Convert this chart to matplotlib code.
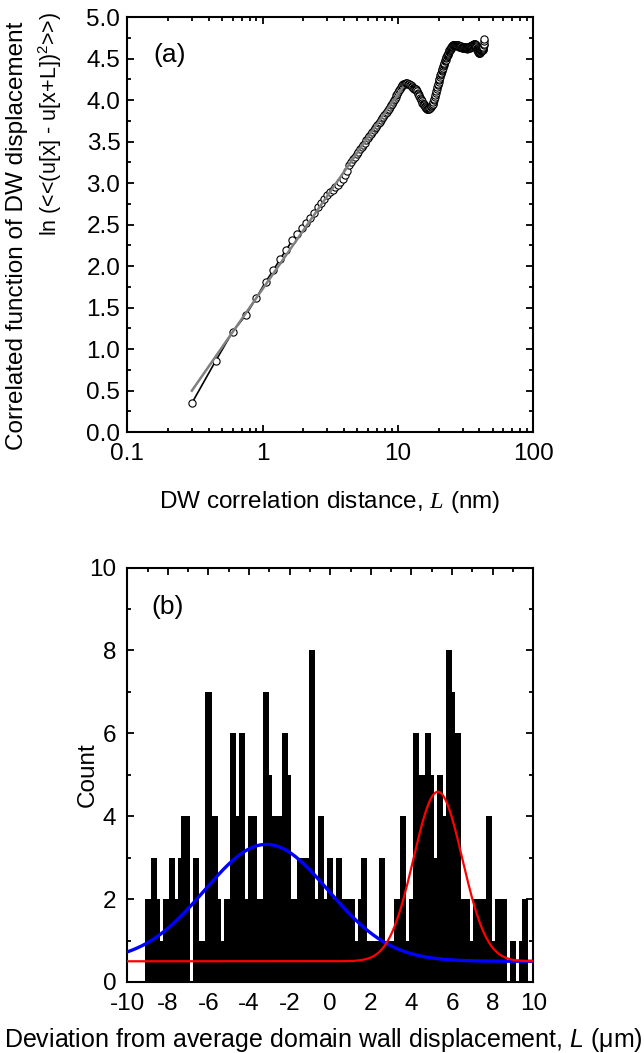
import numpy as np
import matplotlib
matplotlib.use("Agg")
import matplotlib.pyplot as plt
from matplotlib.ticker import MultipleLocator, FixedLocator, FixedFormatter, FormatStrFormatter

plt.rcParams['font.family'] = ['Liberation Sans', 'DejaVu Sans']
plt.rcParams['mathtext.fontset'] = 'custom'
plt.rcParams['mathtext.rm'] = 'Liberation Sans'
plt.rcParams['mathtext.it'] = 'Liberation Sans:italic'
plt.rcParams['mathtext.sf'] = 'Liberation Serif:italic'
plt.rcParams['axes.unicode_minus'] = False

# ---------------- Panel (a) data ----------------
L_step = 0.15          # nm, sampling of the correlation distance
L_first_index = 2      # first point is at 2 * L_step = 0.30 nm
corr_y = [
    0.35, 0.86, 1.21, 1.41, 1.62, 1.81, 1.95, 2.09, 2.20, 2.31, 2.39, 2.46, 2.52, 2.585, 2.645,
    2.71, 2.76, 2.81, 2.86, 2.89, 2.92, 2.95, 2.98, 3.01, 3.05,
    3.10, 3.15, 3.22, 3.26, 3.29, 3.32, 3.35, 3.38, 3.41, 3.44,
    3.46, 3.49, 3.52, 3.54, 3.57, 3.59, 3.62, 3.64, 3.66, 3.68,
    3.70, 3.72, 3.74, 3.76, 3.78, 3.80, 3.82, 3.84, 3.86, 3.88,
    3.90, 3.92, 3.94, 3.96, 3.98, 4.00, 4.02, 4.04, 4.06, 4.08,
    4.10, 4.12, 4.14, 4.16, 4.17, 4.18, 4.19, 4.20, 4.20, 4.21,
    4.21, 4.21, 4.20, 4.20, 4.19, 4.18, 4.18, 4.17, 4.16, 4.15,
    4.15, 4.14, 4.13, 4.13, 4.12, 4.11, 4.09, 4.08, 4.06, 4.05,
    4.03, 4.02, 4.00, 3.99, 3.97, 3.96, 3.95, 3.94, 3.93, 3.92,
    3.91, 3.91, 3.90, 3.90, 3.90, 3.90, 3.90, 3.91, 3.91, 3.92,
    3.93, 3.94, 3.94, 3.95, 3.96, 3.98, 4.00, 4.02, 4.04, 4.06,
    4.09, 4.11, 4.13, 4.16, 4.18, 4.20, 4.22, 4.24, 4.26, 4.28,
    4.30, 4.31, 4.33, 4.35, 4.36, 4.38, 4.39, 4.41, 4.42, 4.44,
    4.45, 4.47, 4.48, 4.49, 4.51, 4.52, 4.53, 4.54, 4.55, 4.56,
    4.57, 4.58, 4.59, 4.60, 4.61, 4.62, 4.62, 4.63, 4.64, 4.64,
    4.65, 4.65, 4.66, 4.66,
    4.66, 4.67, 4.67, 4.67, 4.67, 4.66, 4.66, 4.67, 4.67, 4.66, 4.66, 4.66, 4.65, 4.66, 4.66, 4.65,
    4.65, 4.65, 4.64, 4.64, 4.65, 4.65, 4.64, 4.64, 4.64, 4.65, 4.64, 4.64, 4.63, 4.64,
    4.64, 4.64, 4.63, 4.63, 4.64, 4.64, 4.63, 4.63, 4.63, 4.64, 4.64, 4.63, 4.63, 4.62, 4.63, 4.63, 4.63, 4.64, 4.64, 4.63,
    4.63, 4.63, 4.64, 4.64, 4.64, 4.63, 4.64, 4.64, 4.65, 4.65, 4.64, 4.65, 4.65, 4.66, 4.66, 4.65, 4.66, 4.66, 4.67, 4.67,
    4.67, 4.68, 4.68, 4.67, 4.68, 4.68, 4.68, 4.67, 4.67, 4.66, 4.66, 4.65, 4.64,
    4.63, 4.62, 4.62, 4.61, 4.60, 4.60, 4.59, 4.59, 4.58, 4.58, 4.57, 4.57, 4.57, 4.57, 4.58,
    4.58, 4.58, 4.58, 4.59, 4.59, 4.59, 4.60, 4.60, 4.60, 4.60, 4.61, 4.61, 4.61, 4.62, 4.62,
    4.63, 4.64, 4.66, 4.68, 4.71, 4.74,
]
L_nm = L_step * (L_first_index + np.arange(len(corr_y)))

# linear fit line (grey), end points
fit_L = [0.30, 10.8]
fit_y = [0.50, 4.15]

a_xticks = [0.1, 1, 10, 100]
a_xticklabels = ['0.1', '1', '10', '100']

# ---------------- Panel (b) data ----------------
bin_width = 0.15       # um
bin_start = -9.15      # left edge of first bin
counts = [
    2, 2, 3, 3, 2, 1, 2, 2, 3, 3,
    2, 3, 4, 4, 4, 0, 3, 3, 1, 1,
    7, 7, 4, 4, 2, 1, 2, 2, 6, 6,
    4, 6, 6, 2, 4, 4, 4, 2, 2, 7,
    7, 5, 4, 4, 4, 6, 6, 5, 2, 2,
    3, 3, 3, 3, 8, 8, 2, 4, 4, 2,
    3, 3, 2, 3, 3, 2, 2, 2, 2, 1,
    2, 3, 3, 1, 1, 1, 1, 3, 3, 1,
    1, 1, 2, 2, 4, 4, 1, 2, 6, 6,
    5, 5, 6, 6, 5, 3, 5, 5, 4, 8,
    8, 7, 6, 6, 2, 2, 2, 1, 2, 2,
    2, 2, 4, 4, 1, 2, 2, 2, 2, 0,
    1, 1, 0, 1, 2, 2, 0,
]
bin_centers = bin_start + bin_width * (np.arange(len(counts)) + 0.5)

# Gaussian fits (baseline, amplitude, centre, sigma)
blue_fit = dict(y0=0.5, A=2.82, xc=-3.15, w=3.05)
red_fit = dict(y0=0.5, A=4.09, xc=5.30, w=1.2)

# ---------------- Figure ----------------
W, H = 644, 1053
fig = plt.figure(figsize=(W / 100, H / 100), dpi=100)

def px_axes(left, top, right, bottom):
    return fig.add_axes([left / W, 1 - bottom / H, (right - left) / W, (bottom - top) / H])

axA = px_axes(127.3, 17.2, 533.3, 432.2)
axB = px_axes(127.3, 567.5, 533.3, 982.0)

FS = 17.5

def style_axes(ax):
    for s in ax.spines.values():
        s.set_linewidth(1.5)
    ax.tick_params(which='both', direction='in', top=True, right=True, width=1.3,
                   labelsize=FS, pad=5)
    ax.tick_params(which='major', length=5)
    ax.tick_params(which='minor', length=3)

# Panel (a)
axA.plot(L_nm, corr_y, '-', color='black', lw=1.2, marker='o', ms=5.2,
         mfc='white', mec='black', mew=0.8, zorder=2)
axA.plot(fit_L, fit_y, '-', color='#808080', lw=1.8, zorder=3)
axA.set_xscale('log')
axA.set_xlim(0.1, 100)
axA.set_ylim(0, 5)
axA.xaxis.set_major_locator(FixedLocator(a_xticks))
axA.xaxis.set_major_formatter(FixedFormatter(a_xticklabels))
axA.yaxis.set_major_locator(MultipleLocator(0.5))
axA.yaxis.set_minor_locator(MultipleLocator(0.25))
axA.yaxis.set_major_formatter(FormatStrFormatter('%.1f'))
style_axes(axA)
axA.tick_params(axis='x', pad=8)
axA.text(0.063, 0.91, '(a)', transform=axA.transAxes, fontsize=19, va='center', ha='left')

# Panel (b)
axB.bar(bin_centers, counts, width=bin_width, color='black', linewidth=0, zorder=1)
xg = np.linspace(-10, 10, 600)
for fit, col, lw in [(blue_fit, '#0000ff', 2.4), (red_fit, '#ff0000', 1.6)]:
    yg = fit['y0'] + fit['A'] * np.exp(-(xg - fit['xc']) ** 2 / (2 * fit['w'] ** 2))
    axB.plot(xg, yg, color=col, lw=lw, zorder=3)
axB.set_xlim(-10, 10)
axB.set_ylim(0, 10)
axB.xaxis.set_major_locator(MultipleLocator(2))
axB.xaxis.set_minor_locator(MultipleLocator(1))
axB.yaxis.set_major_locator(MultipleLocator(2))
axB.yaxis.set_minor_locator(MultipleLocator(1))
style_axes(axB)
axB.tick_params(axis='y', pad=8)
axB.tick_params(axis='x', pad=8)
axB.text(0.06, 0.905, '(b)', transform=axB.transAxes, fontsize=19, va='center', ha='left')

# Labels
fig.text(330 / W, 1 - 502 / H, r'DW correlation distance, $\mathsf{L}$ (nm)', fontsize=FS,
         ha='center', va='center')
fig.text(17 / W, 1 - 236 / H, 'Correlated function of DW displacement', fontsize=FS,
         rotation=90, ha='center', va='center')
fig.text(50 / W, 1 - 124 / H, r'ln (<<(u[x] - u[x+L])$^{2}$>>)', fontsize=15.5,
         rotation=90, ha='center', va='center')
fig.text(88 / W, 1 - 775 / H, 'Count', fontsize=FS, rotation=90, ha='center', va='center')
fig.text(323 / W, 1 - 1040 / H,
         r'Deviation from average domain wall displacement, $\mathit{L}$ (μm)',
         fontsize=18, ha='center', va='center')

fig.savefig('out.png', dpi=100)
